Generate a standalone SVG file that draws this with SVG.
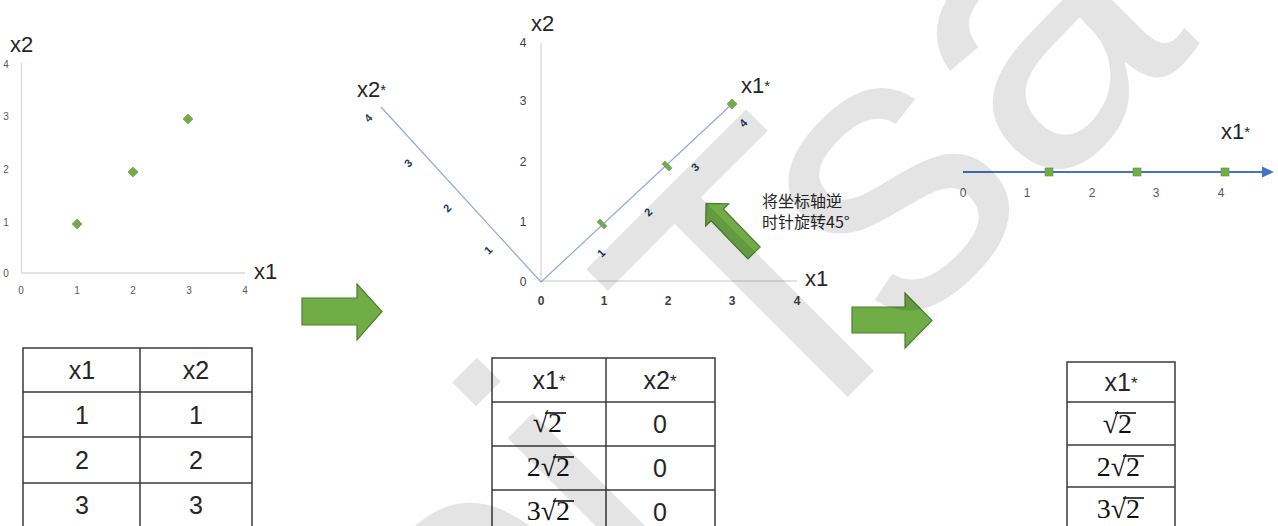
<svg xmlns="http://www.w3.org/2000/svg" width="1278" height="526" viewBox="0 0 1278 526">
<style>
.ax{stroke:#d9d9d9;stroke-width:1.3;fill:none}
.lbl{font-family:"Liberation Sans",Arial,sans-serif;font-size:22px;fill:#262626}
.tk1{font-family:"Liberation Sans",Arial,sans-serif;font-size:10px;fill:#595959;text-anchor:middle}
.tk2{font-family:"Liberation Sans",Arial,sans-serif;font-size:12px;fill:#404040;text-anchor:middle}
.tk3{font-family:"Liberation Sans",Arial,sans-serif;font-size:12px;fill:#595959;text-anchor:middle}
.rt{font-family:"Liberation Sans",Arial,sans-serif;font-size:11px;font-weight:bold;fill:#203864;text-anchor:middle}
.mk{fill:#70ad47;stroke:#5e9a3a;stroke-width:0.6}
.blk{fill:#70ad47;stroke:#507e32;stroke-width:1.2}
.tb{fill:none;stroke:#3a3a3a;stroke-width:1.5}
.tt{font-family:"Liberation Sans",Arial,sans-serif;font-size:25px;fill:#262626;text-anchor:middle}
.sq{font-family:"Liberation Serif","DejaVu Serif",serif;font-size:28px;fill:#111}
.vin{stroke:#111;stroke-width:1.6}
.cn{font-family:"Noto Sans CJK SC","Noto Sans",sans-serif;font-size:16px;fill:#262626}
</style>

<g id="chart1">
  <line class="ax" x1="21.5" y1="63" x2="21.5" y2="273"/>
  <line class="ax" x1="21.5" y1="273" x2="245" y2="273"/>
  <text class="tk1" x="6" y="68">4</text>
  <text class="tk1" x="6" y="120">3</text>
  <text class="tk1" x="6" y="173">2</text>
  <text class="tk1" x="6" y="226">1</text>
  <text class="tk1" x="6" y="277">0</text>
  <text class="tk1" x="21" y="294">0</text>
  <text class="tk1" x="77" y="294">1</text>
  <text class="tk1" x="133" y="294">2</text>
  <text class="tk1" x="189" y="294">3</text>
  <text class="tk1" x="245" y="294">4</text>
  <path class="mk" d="M72 224 L77 219 L82 224 L77 229 Z"/>
  <path class="mk" d="M128 172 L133 167 L138 172 L133 177 Z"/>
  <path class="mk" d="M183 119 L188 114 L193 119 L188 124 Z"/>
  <text class="lbl" x="10" y="52">x2</text>
  <text class="lbl" x="254" y="279">x1</text>
</g>

<g id="arrow1">
  <path class="blk" d="M302 298 L357 298 L357 284 L382 311.5 L357 340 L357 325 L302 325 Z"/>
</g>

<g id="chart2">
  <line class="ax" x1="541" y1="43" x2="541" y2="281"/>
  <line class="ax" x1="541" y1="281" x2="797" y2="281"/>
  <text class="tk2" x="523" y="47">4</text>
  <text class="tk2" x="523" y="105">3</text>
  <text class="tk2" x="523" y="166">2</text>
  <text class="tk2" x="523" y="226">1</text>
  <text class="tk2" x="523" y="286">0</text>
  <text class="tk2" x="541" y="305" font-weight="bold">0</text>
  <text class="tk2" x="604" y="305" font-weight="bold">1</text>
  <text class="tk2" x="668" y="305" font-weight="bold">2</text>
  <text class="tk2" x="732" y="305" font-weight="bold">3</text>
  <text class="tk2" x="797" y="305" font-weight="bold">4</text>
  <line x1="541" y1="282" x2="381" y2="107" stroke="#8ea9db" stroke-width="1.2"/>
  <line x1="541" y1="282" x2="732" y2="104" stroke="#8ea9db" stroke-width="1.2"/>
  <text class="rt" transform="translate(488,250) rotate(-45)" y="4">1</text>
  <text class="rt" transform="translate(447,208) rotate(-45)" y="4">2</text>
  <text class="rt" transform="translate(408,163) rotate(-45)" y="4">3</text>
  <text class="rt" transform="translate(368,118) rotate(-45)" y="4">4</text>
  <text class="rt" transform="translate(601,253) rotate(-45)" y="4">1</text>
  <text class="rt" transform="translate(648,212) rotate(-45)" y="4">2</text>
  <text class="rt" transform="translate(695,167) rotate(-45)" y="4">3</text>
  <text class="rt" transform="translate(743,123) rotate(-45)" y="4">4</text>
  <rect class="mk" x="-5" y="-2" width="10" height="4" transform="translate(602,224) rotate(45)"/>
  <rect class="mk" x="-5" y="-2" width="10" height="4" transform="translate(667,166) rotate(45)"/>
  <rect class="mk" x="-3.5" y="-3.5" width="7" height="7" transform="translate(732,104) rotate(45)"/>
  <text class="lbl" x="531" y="31">x2</text>
  <text class="lbl" x="805" y="286">x1</text>
  <text class="lbl" x="357" y="97">x2<tspan font-size="15" dy="-2">*</tspan></text>
  <text class="lbl" x="741" y="93">x1<tspan font-size="15" dy="-2">*</tspan></text>
</g>

<g id="rotate-arrow">
  <path class="blk" transform="translate(754,253) rotate(-134)" d="M0 -8.5 L53 -8.5 L53 -16 L69 0 L53 16 L53 8.5 L0 8.5 Z"/>
</g>

<g id="rotate-note">
  <text class="cn" x="762" y="207">将坐标轴逆</text>
  <text class="cn" x="762" y="228">时针旋转45°</text>
</g>

<g id="arrow2">
  <path class="blk" d="M852 307 L905 307 L905 293 L932 320.5 L905 348 L905 333 L852 333 Z"/>
</g>

<g id="chart3">
  <line x1="963" y1="172" x2="1264" y2="172" stroke="#4472c4" stroke-width="2"/>
  <path d="M1262 166.5 L1274 172 L1262 177.5 Z" fill="#4472c4"/>
  <text class="tk3" x="963" y="197">0</text>
  <text class="tk3" x="1027" y="197">1</text>
  <text class="tk3" x="1092" y="197">2</text>
  <text class="tk3" x="1156" y="197">3</text>
  <text class="tk3" x="1221" y="197">4</text>
  <rect class="mk" x="1045" y="168" width="8" height="8"/>
  <rect class="mk" x="1133" y="168" width="8" height="8"/>
  <rect class="mk" x="1221" y="168" width="8" height="8"/>
  <text class="lbl" x="1221" y="139">x1<tspan font-size="15" dy="-2">*</tspan></text>
</g>

<g id="table1">
  <rect class="tb" x="23" y="348" width="229" height="182"/>
  <line class="tb" x1="140" y1="348" x2="140" y2="530"/>
  <line class="tb" x1="23" y1="392" x2="252" y2="392"/>
  <line class="tb" x1="23" y1="437" x2="252" y2="437"/>
  <line class="tb" x1="23" y1="483" x2="252" y2="483"/>
  <text class="tt" x="82" y="379">x1</text>
  <text class="tt" x="196" y="379">x2</text>
  <text class="tt" x="82" y="424">1</text>
  <text class="tt" x="196" y="424">1</text>
  <text class="tt" x="82" y="469">2</text>
  <text class="tt" x="196" y="469">2</text>
  <text class="tt" x="82" y="514">3</text>
  <text class="tt" x="196" y="514">3</text>
</g>

<g id="table2">
  <rect class="tb" x="492" y="358" width="223" height="172"/>
  <line class="tb" x1="606" y1="358" x2="606" y2="530"/>
  <line class="tb" x1="492" y1="402" x2="715" y2="402"/>
  <line class="tb" x1="492" y1="446" x2="715" y2="446"/>
  <line class="tb" x1="492" y1="490" x2="715" y2="490"/>
  <text class="tt" x="549" y="389">x1<tspan font-size="17" dy="-2">*</tspan></text>
  <text class="tt" x="660" y="389">x2<tspan font-size="17" dy="-2">*</tspan></text>
  <text class="sq" y="432"><tspan x="548" text-anchor="end">√</tspan><tspan x="548">2</tspan></text>
  <line class="vin" x1="545" y1="413" x2="566" y2="413"/>
  <text class="tt" x="660" y="433">0</text>
  <text class="sq" y="476"><tspan x="556" text-anchor="end">2√</tspan><tspan x="556">2</tspan></text>
  <line class="vin" x1="553" y1="457" x2="574" y2="457"/>
  <text class="tt" x="660" y="477">0</text>
  <text class="sq" y="520"><tspan x="556" text-anchor="end">3√</tspan><tspan x="556">2</tspan></text>
  <line class="vin" x1="553" y1="501" x2="574" y2="501"/>
  <text class="tt" x="660" y="521">0</text>
</g>

<g id="table3">
  <rect class="tb" x="1067" y="362" width="108" height="168"/>
  <line class="tb" x1="1067" y1="402" x2="1175" y2="402"/>
  <line class="tb" x1="1067" y1="445" x2="1175" y2="445"/>
  <line class="tb" x1="1067" y1="487" x2="1175" y2="487"/>
  <text class="tt" x="1121" y="391">x1<tspan font-size="17" dy="-2">*</tspan></text>
  <text class="sq" y="433"><tspan x="1118" text-anchor="end">√</tspan><tspan x="1118">2</tspan></text>
  <line class="vin" x1="1115" y1="413" x2="1136" y2="413"/>
  <text class="sq" y="476"><tspan x="1126" text-anchor="end">2√</tspan><tspan x="1126">2</tspan></text>
  <line class="vin" x1="1123" y1="456" x2="1144" y2="456"/>
  <text class="sq" y="518"><tspan x="1126" text-anchor="end">3√</tspan><tspan x="1126">2</tspan></text>
  <line class="vin" x1="1123" y1="498" x2="1144" y2="498"/>
</g>

<g id="watermark">
  <text x="-200" y="0" transform="translate(622.3,622.3) rotate(-45)" font-family="Liberation Sans,Arial,sans-serif" font-size="400" fill="#000" fill-opacity="0.105">ei T<tspan dx="-20">sa</tspan></text>
</g>
</svg>
